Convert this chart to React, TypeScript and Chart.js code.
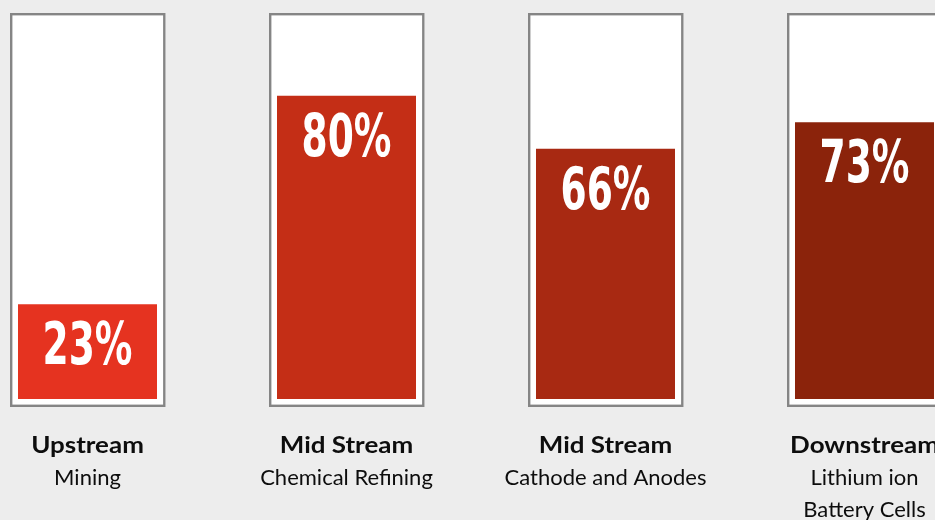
import React, { useEffect, useRef } from "react";
import { Chart, registerables } from "chart.js";

Chart.register(...registerables);

const stages = ["Upstream", "Mid Stream", "Mid Stream", "Downstream"];
const stageDetails = [["Mining"], ["Chemical Refining"], ["Cathode and Anodes"], ["Lithium ion", "Battery Cells"]];
const barHeights = [25, 80, 66, 73];
const shareLabels = ["23%", "80%", "66%", "73%"];
const barColors = ["#e53320", "#c42e16", "#a82912", "#8b230b"];

const framesAndLabels = {
  id: "framesAndLabels",
  beforeDatasetsDraw(chart: any) {
    const ctx = chart.ctx;
    const meta = chart.getDatasetMeta(0);
    const y = chart.scales.y;
    meta.data.forEach((bar: any) => {
      const w = bar.width;
      const left = bar.x - w / 2 - 8;
      const right = bar.x + w / 2 + 8.5;
      const top = y.getPixelForValue(100) - 7;
      const bottom = y.getPixelForValue(0) + 8;
      ctx.save();
      ctx.fillStyle = "#ffffff";
      ctx.fillRect(left, top, right - left, bottom - top);
      ctx.strokeStyle = "#858585";
      ctx.lineWidth = 2.4;
      ctx.strokeRect(left + 1.2, top + 1.2, right - left - 2.4, bottom - top - 2.4);
      ctx.restore();
    });
  },
  afterDatasetsDraw(chart: any) {
    const ctx = chart.ctx;
    const meta = chart.getDatasetMeta(0);
    meta.data.forEach((bar: any, i: number) => {
      ctx.save();
      ctx.translate(bar.x, bar.y + 60);
      ctx.scale(0.72, 1);
      ctx.font = "bold 58px 'DejaVu Sans Condensed', 'DejaVu Sans'";
      ctx.fillStyle = "#ffffff";
      ctx.textAlign = "center";
      ctx.textBaseline = "alphabetic";
      ctx.fillText(shareLabels[i], 0, 0);
      ctx.restore();
    });
  },
  afterDraw(chart: any) {
    const ctx = chart.ctx;
    const meta = chart.getDatasetMeta(0);
    const base = chart.scales.y.getPixelForValue(0);
    meta.data.forEach((bar: any, i: number) => {
      ctx.save();
      ctx.fillStyle = "#0d0d0d";
      ctx.textAlign = "center";
      ctx.textBaseline = "alphabetic";
      ctx.save();
      ctx.translate(bar.x, base + 54);
      ctx.scale(1.18, 1);
      ctx.font = "bold 22px Lato";
      ctx.fillText(stages[i], 0, 0);
      ctx.restore();
      ctx.font = "22px Lato";
      stageDetails[i].forEach((line: string, j: number) => {
        ctx.fillText(line, bar.x, base + 86 + j * 32);
      });
      ctx.restore();
    });
  },
};

export default function App() {
  const ref = useRef<HTMLCanvasElement>(null);
  useEffect(() => {
    if (!ref.current) return;
    const chart = new Chart(ref.current, {
      type: "bar",
      data: {
        labels: stages,
        datasets: [
          {
            data: barHeights,
            backgroundColor: barColors,
            borderWidth: 0,
            barPercentage: 0.5367,
            categoryPercentage: 1,
          },
        ],
      },
      options: {
        responsive: false,
        animation: false,
        layout: { padding: { top: 20, bottom: 121, left: 0, right: 0 } },
        plugins: { legend: { display: false }, tooltip: { enabled: false } },
        scales: {
          x: { display: false, offset: true, grid: { display: false } },
          y: { display: false, min: 0, max: 100, grid: { display: false } },
        },
      },
      plugins: [framesAndLabels],
    });
    return () => chart.destroy();
  }, []);
  return (
    <div style={{ position: "fixed", left: 0, top: 0, width: 935, height: 520, overflow: "hidden", background: "#ededed" }}>
      <canvas ref={ref} width={1036} height={520} style={{ position: "absolute", left: -42, top: 0, width: 1036, height: 520 }} />
    </div>
  );
}
